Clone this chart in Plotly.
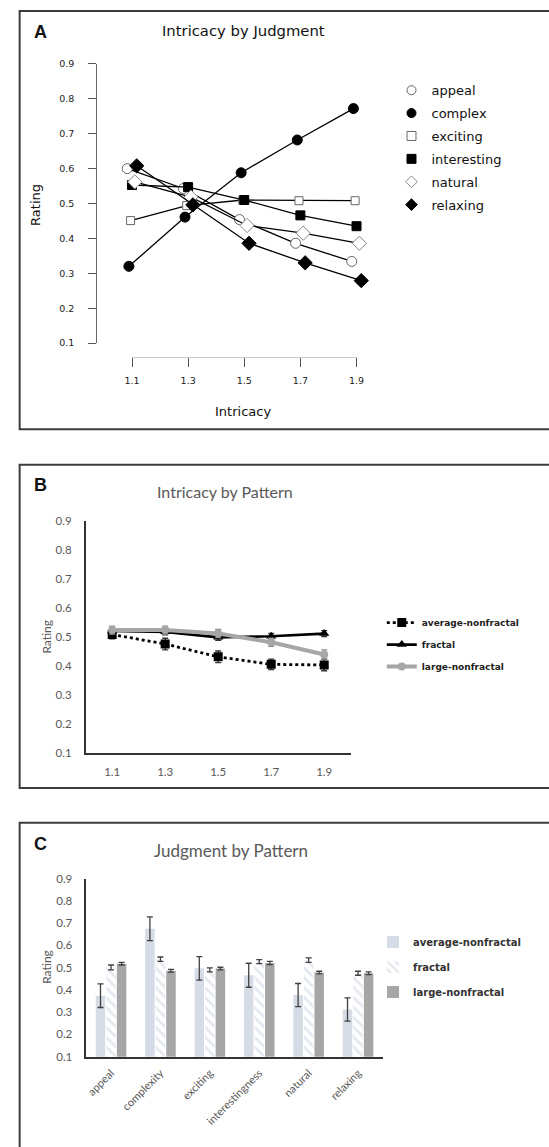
import plotly.graph_objects as go

W, H = 549, 1147


def px(x):
    return x / W


def py(y):
    return 1 - y / H


# ---------------- Panel A data ----------------
intricacy = [1.1, 1.3, 1.5, 1.7, 1.9]
judgments_a = ["appeal", "complex", "exciting", "interesting", "natural", "relaxing"]
appeal = [0.600, 0.543, 0.454, 0.386, 0.334]
complex_ = [0.320, 0.461, 0.588, 0.682, 0.772]
exciting = [0.451, 0.494, 0.510, 0.508, 0.508]
interesting = [0.553, 0.547, 0.510, 0.466, 0.435]
natural = [0.562, 0.518, 0.437, 0.415, 0.386]
relaxing = [0.608, 0.496, 0.386, 0.330, 0.279]
jitter_a = [-0.017, -0.011, -0.005, 0.0, 0.010, 0.017]
series_a = [appeal, complex_, exciting, interesting, natural, relaxing]

# ---------------- Panel B data ----------------
patterns = ["average-nonfractal", "fractal", "large-nonfractal"]
b_avg = [0.508, 0.475, 0.431, 0.405, 0.403]
b_avg_err = [0.015, 0.020, 0.020, 0.018, 0.020]
b_fractal = [0.520, 0.517, 0.498, 0.502, 0.511]
b_fractal_err = [0.010, 0.010, 0.010, 0.010, 0.010]
b_large = [0.523, 0.523, 0.511, 0.481, 0.439]
b_large_err = [0.014, 0.014, 0.014, 0.014, 0.016]

# ---------------- Panel C data ----------------
judgments_c = ["appeal", "complexity", "exciting", "interestingness", "natural", "relaxing"]
c_avg = [0.374, 0.675, 0.497, 0.466, 0.377, 0.312]
c_avg_err = [0.053, 0.053, 0.053, 0.054, 0.052, 0.052]
c_fractal = [0.501, 0.538, 0.490, 0.527, 0.534, 0.475]
c_fractal_err = [0.011, 0.010, 0.009, 0.009, 0.010, 0.009]
c_large = [0.518, 0.486, 0.496, 0.521, 0.478, 0.475]
c_large_err = [0.006, 0.006, 0.006, 0.007, 0.006, 0.006]

yticks = [0.1, 0.2, 0.3, 0.4, 0.5, 0.6, 0.7, 0.8, 0.9]

fig = go.Figure()

# ---- Panel A traces ----
styles_a = [
    dict(symbol="circle", size=10, color="white", line=dict(color="#666", width=1)),
    dict(symbol="circle", size=10, color="black", line=dict(color="black", width=1)),
    dict(symbol="square", size=8, color="white", line=dict(color="#666", width=1)),
    dict(symbol="square", size=9, color="black", line=dict(color="black", width=1)),
    dict(symbol="diamond", size=11, color="white", line=dict(color="#888", width=1)),
    dict(symbol="diamond", size=11, color="black", line=dict(color="black", width=1)),
]
for name, vals, jit, st in zip(judgments_a, series_a, jitter_a, styles_a):
    fig.add_trace(go.Scatter(
        x=[v + jit for v in intricacy], y=vals, mode="lines+markers",
        line=dict(color="black", width=1.3), marker=st,
        xaxis="x", yaxis="y", showlegend=False, cliponaxis=False, hoverinfo="skip"))
for name, st in zip(judgments_a, styles_a):
    legst = dict(st)
    legst["size"] = 9
    fig.add_trace(go.Scatter(
        x=[None], y=[None], mode="markers", marker=legst, name=name,
        xaxis="x", yaxis="y", legend="legend", legendgroup="a_" + name))
# dummy trace for the visible A x-axis
fig.add_trace(go.Scatter(x=[1.1, 1.9], y=[None, None], mode="markers",
                         xaxis="x4", yaxis="y", showlegend=False, hoverinfo="skip"))

# ---- Panel B traces ----
fig.add_trace(go.Scatter(
    x=intricacy, y=b_avg, name=patterns[0], mode="lines+markers",
    line=dict(color="black", width=2.8, dash="dot"),
    marker=dict(symbol="square", size=9, color="black"),
    error_y=dict(type="data", array=b_avg_err, color="#333", thickness=1.3, width=3),
    xaxis="x2", yaxis="y2", legend="legend2", legendgroup="b0"))
fig.add_trace(go.Scatter(
    x=intricacy, y=b_fractal, name=patterns[1], mode="lines+markers",
    line=dict(color="black", width=2.6),
    marker=dict(symbol="triangle-up", size=9, color="black"),
    error_y=dict(type="data", array=b_fractal_err, color="#333", thickness=1.3, width=3),
    xaxis="x2", yaxis="y2", legend="legend2", legendgroup="b1"))
fig.add_trace(go.Scatter(
    x=intricacy, y=b_large, name=patterns[2], mode="lines+markers",
    line=dict(color="#a6a6a6", width=4),
    marker=dict(symbol="circle", size=8, color="#a6a6a6"),
    error_y=dict(type="data", array=b_large_err, color="#8a8a8a", thickness=1.3, width=3),
    xaxis="x2", yaxis="y2", legend="legend2", legendgroup="b2"))

# ---- Panel C traces ----
err_c = dict(type="data", color="#404040", thickness=1.3, width=3)
fig.add_trace(go.Bar(
    x=judgments_c, y=c_avg, name=patterns[0],
    marker=dict(color="#d6dce5", line=dict(width=0)),
    error_y=dict(err_c, array=c_avg_err),
    xaxis="x3", yaxis="y3", legend="legend3", legendgroup="c0"))
fig.add_trace(go.Bar(
    x=judgments_c, y=c_fractal, name=patterns[1],
    marker=dict(color="white", line=dict(width=0),
                pattern=dict(shape="\\", fgcolor="#c9d2e1", bgcolor="white",
                             size=7, solidity=0.4, fillmode="overlay")),
    error_y=dict(err_c, array=c_fractal_err),
    xaxis="x3", yaxis="y3", legend="legend3", legendgroup="c1"))
fig.add_trace(go.Bar(
    x=judgments_c, y=c_large, name=patterns[2],
    marker=dict(color="#a6a6a6", line=dict(width=0)),
    error_y=dict(err_c, array=c_large_err),
    xaxis="x3", yaxis="y3", legend="legend3", legendgroup="c2"))

dv = "DejaVu Sans"
lato = "Lato"
gray = "#595959"

fig.update_layout(
    width=W, height=H, margin=dict(l=0, r=0, t=0, b=0),
    paper_bgcolor="white", plot_bgcolor="rgba(0,0,0,0)",
    barmode="group", bargap=0.36, bargroupgap=0.1,
    # Panel A
    xaxis=dict(domain=[px(92), px(400)], range=[0.9765, 2.0419], visible=False,
               anchor="y", fixedrange=True),
    xaxis4=dict(domain=[px(127.7), px(359)], range=[1.0999, 1.9001], anchor="free",
                position=py(354), showline=True, linecolor="#c8c8c8",
                linewidth=1, ticks="outside", ticklen=9, tickcolor="#555", tickwidth=1,
                tickvals=intricacy, ticktext=["1.1", "1.3", "1.5", "1.7", "1.9"],
                tickfont=dict(family=dv, size=9.5, color="#222"), ticklabelstandoff=6,
                showgrid=False, zeroline=False),
    yaxis=dict(domain=[py(340), py(57.5)], range=[0.0999, 0.9001], anchor="x",
               showline=True, linecolor="#666", linewidth=1, ticks="outside",
               ticklen=8, tickcolor="#555", tickvals=yticks,
               ticktext=["%.1f" % v for v in yticks],
               tickfont=dict(family=dv, size=9.5, color="#222"), ticklabelstandoff=12,
               showgrid=False, zeroline=False),
    # Panel B
    xaxis2=dict(domain=[px(80), px(353)], range=[1.0, 2.0], anchor="y2",
                showline=True, linecolor="#333", linewidth=1.5, ticks="",
                tickvals=intricacy, ticktext=["1.1", "1.3", "1.5", "1.7", "1.9"],
                tickfont=dict(family=lato, size=11.5, color=gray), ticklabelstandoff=8,
                showgrid=False, zeroline=False),
    yaxis2=dict(domain=[py(754.5), py(519.5)], range=[0.1, 0.9], anchor="x2",
                showline=True, linecolor="#333", linewidth=1.5, ticks="",
                tickvals=yticks, ticktext=["%.1f" % v for v in yticks],
                tickfont=dict(family=lato, size=11.5, color=gray), ticklabelstandoff=10,
                showgrid=False, zeroline=False),
    # Panel C
    xaxis3=dict(domain=[px(80.7), px(386)], anchor="y3", type="category",
                showline=True, linecolor="#333", linewidth=1.5, ticks="",
                tickangle=-45, tickfont=dict(family=lato, size=11, color=gray),
                ticklabelstandoff=4, showgrid=False, zeroline=False),
    yaxis3=dict(domain=[py(1061.7), py(881.7)], range=[0.1, 0.9], anchor="x3",
                showline=True, linecolor="#333", linewidth=1.5, ticks="",
                tickvals=yticks, ticktext=["%.1f" % v for v in yticks],
                tickfont=dict(family=lato, size=11.5, color=gray), ticklabelstandoff=10,
                showgrid=False, zeroline=False),
    legend=dict(x=px(395), y=py(69), xanchor="left", yanchor="top",
                font=dict(family=dv, size=13, color="#111"), tracegroupgap=3,
                bgcolor="rgba(0,0,0,0)"),
    legend2=dict(x=px(385), y=py(608), xanchor="left", yanchor="top",
                 font=dict(family=dv, size=9, color="#222", weight="bold"),
                 tracegroupgap=3, bgcolor="rgba(0,0,0,0)"),
    legend3=dict(x=px(376), y=py(931), xanchor="left", yanchor="top",
                 font=dict(family=dv, size=10, color="#333", weight="bold"),
                 tracegroupgap=6, bgcolor="rgba(0,0,0,0)"),
)

border = dict(color="#3c3c3c", width=2)
fig.add_shape(type="rect", xref="paper", yref="paper", x0=px(12), x1=px(600),
              y0=py(427), y1=py(4), line=border, layer="above")
fig.add_shape(type="rect", xref="paper", yref="paper", x0=px(12), x1=px(600),
              y0=py(790), y1=py(463), line=border, layer="above")
fig.add_shape(type="rect", xref="paper", yref="paper", x0=px(12), x1=px(600),
              y0=py(1200), y1=py(825), line=border, layer="above")


def ann(text, x, y, size, family, color="#111", bold=False, angle=0):
    fig.add_annotation(text=("<b>%s</b>" % text) if bold else text,
                       xref="paper", yref="paper", x=px(x), y=py(y),
                       xanchor="center", yanchor="middle", showarrow=False,
                       textangle=angle, font=dict(size=size, family=family, color=color))


ann("A", 33, 25, 18, "Liberation Sans", "#111", bold=True)
ann("Intricacy by Judgment", 243, 24, 14.8, dv)
ann("Rating", 29, 200, 13, dv, angle=-90)
ann("Intricacy", 242, 409, 13, dv)
ann("B", 33, 483, 18, "Liberation Sans", "#111", bold=True)
ann("Intricacy by Pattern", 224, 490, 16, lato, gray)
ann("Rating", 40, 637, 12, lato, gray, angle=-90)
ann("C", 33, 847, 18, "Liberation Sans", "#111", bold=True)
ann("Judgment by Pattern", 230, 853, 17, lato, gray)
ann("Rating", 40, 971, 12, lato, gray, angle=-90)

fig.write_html("out.html", config={"displayModeBar": False},
               post_script="document.body.style.margin='0px';document.body.style.overflow='hidden';")
